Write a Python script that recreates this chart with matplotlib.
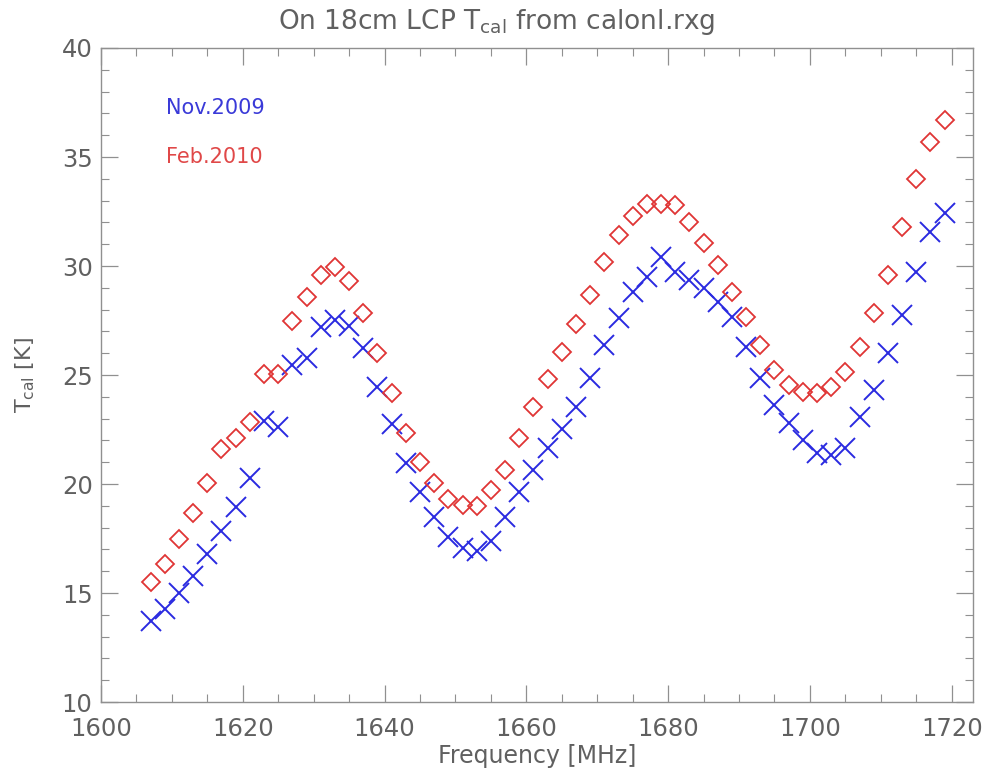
import matplotlib.pyplot as plt
from matplotlib.ticker import MultipleLocator

# frequencies (MHz), 2 MHz steps
freq = list(range(1607, 1720, 2))

# Nov.2009 (blue crosses)
tcal_nov2009 = [13.72, 14.27, 15.0, 15.78, 16.79, 17.84, 18.94, 20.28, 22.89, 22.61,
                25.46, 25.78, 27.2, 27.52, 27.25,
                26.24, 24.45, 22.75, 20.96, 19.63, 18.49, 17.57, 17.06, 16.93, 17.39, 18.49,
                19.63, 20.64, 21.65, 22.52, 23.53, 24.86, 26.38, 27.61, 28.81, 29.5, 30.41,
                29.72, 29.36, 28.99, 28.35, 27.66, 26.28, 24.86, 23.62, 22.8, 22.02,
                21.42, 21.33, 21.65, 23.07, 24.31, 26.01, 27.75, 29.72, 31.56, 32.43]

# Feb.2010 (red diamonds)
tcal_feb2010 = [15.5, 16.33, 17.48, 18.67, 20.05, 21.6, 22.11, 22.84, 25.05, 25.05,
                27.5, 28.58, 29.6, 29.95, 29.31,
                27.84, 26.0, 24.17, 22.34, 21.0, 20.05, 19.31, 19.04, 19.0, 19.72, 20.64,
                22.11, 23.53, 24.82, 26.06, 27.34, 28.67, 30.18, 31.42, 32.29, 32.84, 32.84,
                32.8, 32.02, 31.06, 30.05, 28.81, 27.66, 26.38, 25.23, 24.54, 24.22,
                24.17, 24.45, 25.14, 26.28, 27.84, 29.59, 31.79, 33.99, 35.69, 36.7]

txt = '#606060'
axcol = '#909090'

fig = plt.figure(figsize=(9.88, 7.83), dpi=100)
ax = fig.add_axes([0.1022, 0.1034, 0.8826, 0.8353])

ax.plot(freq, tcal_nov2009, linestyle='none', marker='x', markersize=14.5,
        markeredgewidth=1.4, color='#2a2ae0')
ax.plot(freq, tcal_feb2010, linestyle='none', marker='D', markersize=8.8,
        markeredgewidth=1.3, markerfacecolor='none', markeredgecolor='#e03535')

ax.set_xlim(1600, 1723)
ax.set_ylim(10, 40)
ax.xaxis.set_major_locator(MultipleLocator(20))
ax.xaxis.set_minor_locator(MultipleLocator(5))
ax.yaxis.set_major_locator(MultipleLocator(5))
ax.yaxis.set_minor_locator(MultipleLocator(1))
ax.tick_params(which='both', direction='in', top=True, right=True,
               color=axcol, labelcolor=txt, labelsize=17.5)
ax.tick_params(which='major', length=12.5, width=0.9)
ax.tick_params(which='minor', length=5.5, width=0.8)
ax.tick_params(axis='x', which='major', pad=11)
ax.tick_params(axis='y', which='major', pad=6)
for s in ax.spines.values():
    s.set_color(axcol)
    s.set_linewidth(1.0)

fig.text(0.503, 0.972, 'On 18cm LCP T$_{\\rm cal}$ from calonl.rxg', fontsize=19,
         color=txt, ha='center', va='center')
ax.set_xlabel('Frequency [MHz]', fontsize=17, color=txt, labelpad=2)
ax.set_ylabel('T$_{\\rm cal}$ [K]', fontsize=16, color=txt, labelpad=18)

ax.text(0.074, 0.908, 'Nov.2009', transform=ax.transAxes, color='#3a3ad8',
        fontsize=15, va='center')
ax.text(0.074, 0.833, 'Feb.2010', transform=ax.transAxes, color='#e04848',
        fontsize=15, va='center')

fig.savefig('out.png', dpi=100)
plt.close(fig)
